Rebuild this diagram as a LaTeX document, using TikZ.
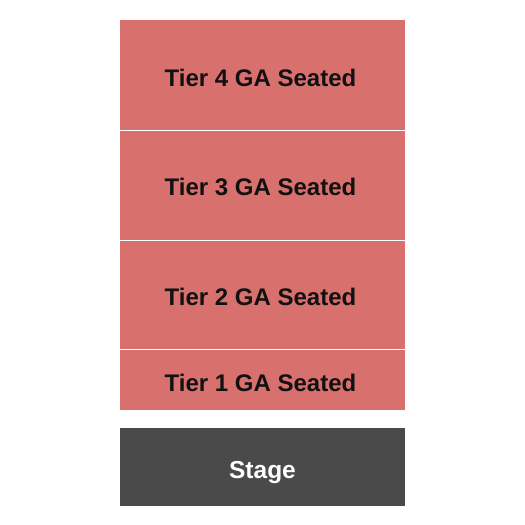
\documentclass[tikz,border=0pt]{standalone}
\usepackage{fontspec}
\setmainfont{Liberation Sans}
\definecolor{tierred}{HTML}{D8706E}
\definecolor{stagegray}{HTML}{4A4A4A}
\definecolor{labelblack}{HTML}{111111}
\begin{document}
\begin{tikzpicture}[x=1pt,y=-1pt,
  tier/.style={fill=tierred,draw=none},
  stagebox/.style={fill=stagegray,draw=none},
  tierlabel/.style={font=\fontsize{24}{28}\selectfont\bfseries,text=labelblack,inner sep=0pt,anchor=base},
  stagelabel/.style={font=\fontsize{24.5}{28}\selectfont\bfseries,text=white,inner sep=0pt,anchor=base}]
\useasboundingbox[fill=white] (0,0) rectangle (525,525);
\path[tier] (120,20) rectangle (405,130);
\path[tier] (120,131) rectangle (405,240);
\path[tier] (120,241) rectangle (405,349);
\path[tier] (120,350) rectangle (405,410);
\path[stagebox] (120,428) rectangle (405,506);
\node[tierlabel] (t4) at (260.5,86.7) {Tier 4 GA Seated};
\node[tierlabel] (t3) at (260.5,195.7) {Tier 3 GA Seated};
\node[tierlabel] (t2) at (260.5,305.7) {Tier 2 GA Seated};
\node[tierlabel] (t1) at (260.5,391.7) {Tier 1 GA Seated};
\node[stagelabel] (st) at (262.5,478) {Stage};
\end{tikzpicture}
\end{document}
